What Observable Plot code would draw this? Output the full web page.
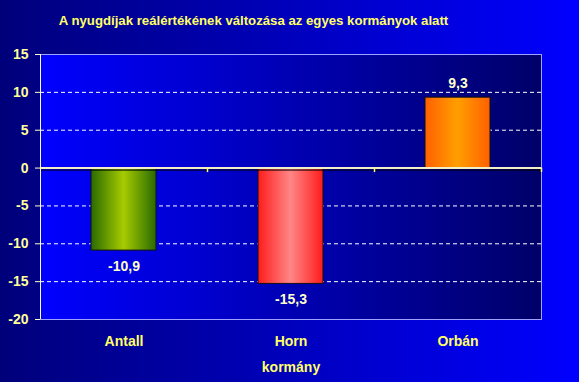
<!DOCTYPE html>
<html><head><meta charset="utf-8">
<script src="https://cdn.jsdelivr.net/npm/d3@7"></script>
<script src="https://cdn.jsdelivr.net/npm/@observablehq/plot@0.6"></script>
<style>body{margin:0;background:#000080;overflow:hidden}</style>
</head><body><div id="chart"></div>
<script>
const categories = ["Antall", "Horn", "Orbán"];
const values = [-10.9, -15.3, 9.3];
const yTicks = [-20, -15, -10, -5, 0, 5, 10, 15];
const gridTicks = [-15, -10, -5, 5, 10];
const title = "A nyugdíjak reálértékének változása az egyes kormányok alatt";
const xLabel = "kormány";
const barColors = [["#2a6a00", "#a6cc00"], ["#ff1c1c", "#ff8686"], ["#ff6000", "#ff9f00"]];

const data = categories.map((c, i) => ({cat: c, value: values[i], i}));
const fmt = v => String(v).replace(".", ",");
const font = "'Liberation Sans', Arial, sans-serif";
const W = 579, H = 382, mL = 40, mR = 38, mT = 54, mB = 63;
const half = (W - mL - mR) / categories.length / 2;

const marks = [
  Plot.frame({fill: "url(#plotBg)", stroke: "#a0a0ff", strokeWidth: 1}),
  Plot.gridY(gridTicks, {stroke: "#ffffff", strokeOpacity: 1, strokeDasharray: "4,3"}),
  ...data.map(d => Plot.barY([d], {x: "cat", y: "value", fill: `url(#bar${d.i})`, stroke: "#101010", strokeWidth: 1})),
  Plot.ruleY([0], {stroke: "#000000", strokeWidth: 1, dy: 2}),
  Plot.ruleY([0], {stroke: "#f2eec8", strokeWidth: 2}),
  Plot.ruleX(categories, {x: d => d, y1: 0, y2: -0.6, dx: half, stroke: "#ffff66", strokeWidth: 1.5}),
  Plot.ruleX([categories[0]], {x: d => d, y1: -20, y2: 15, dx: -half, stroke: "#ffffcc", strokeWidth: 1}),
  Plot.axisY(yTicks, {tickSize: 5, tickPadding: 7, stroke: "#ffffcc", fill: "#ffff99", fontWeight: "bold", fontSize: 14, label: null, tickFormat: d => String(d)}),
  Plot.axisX({tickSize: 0, tickPadding: 17, fill: "#ffff66", fontWeight: "bold", fontSize: 14, label: null}),
  Plot.text(data.filter(d => d.value < 0), {x: "cat", y: "value", text: d => fmt(d.value), dy: 16, fill: "#ffffcc", fontWeight: "bold", fontSize: 14}),
  Plot.text(data.filter(d => d.value >= 0), {x: "cat", y: "value", text: d => fmt(d.value), dy: -14, fill: "#ffffcc", fontWeight: "bold", fontSize: 14}),
  Plot.text([title], {frameAnchor: "top", dy: -39, dx: -37.5, fill: "#ffff66", fontWeight: "bold", fontSize: 13.2}),
  Plot.text([xLabel], {frameAnchor: "bottom", dy: 52, fill: "#ffff66", fontWeight: "bold", fontSize: 14})
];

const svg = Plot.plot({
  width: W, height: H,
  marginLeft: mL, marginRight: mR, marginTop: mT, marginBottom: mB,
  style: {background: "linear-gradient(to right, #00007a, #0000ff)", fontFamily: font, overflow: "visible"},
  x: {domain: categories, paddingInner: 0.61, paddingOuter: 0.305, axis: null},
  y: {domain: [-20, 15], axis: null},
  marks
});
document.getElementById("chart").appendChild(svg);

const defs = d3.select(svg).insert("defs", ":first-child");
const pg = defs.append("linearGradient").attr("id", "plotBg").attr("x1", "0%").attr("x2", "100%").attr("y1", "0%").attr("y2", "0%");
pg.append("stop").attr("offset", "0%").attr("stop-color", "#0000ff");
pg.append("stop").attr("offset", "100%").attr("stop-color", "#000068");
barColors.forEach(([dark, light], i) => {
  const g = defs.append("linearGradient").attr("id", `bar${i}`).attr("x1", "0%").attr("x2", "100%").attr("y1", "0%").attr("y2", "0%");
  g.append("stop").attr("offset", "0%").attr("stop-color", dark);
  g.append("stop").attr("offset", "50%").attr("stop-color", light);
  g.append("stop").attr("offset", "100%").attr("stop-color", dark);
});
</script></body></html>
